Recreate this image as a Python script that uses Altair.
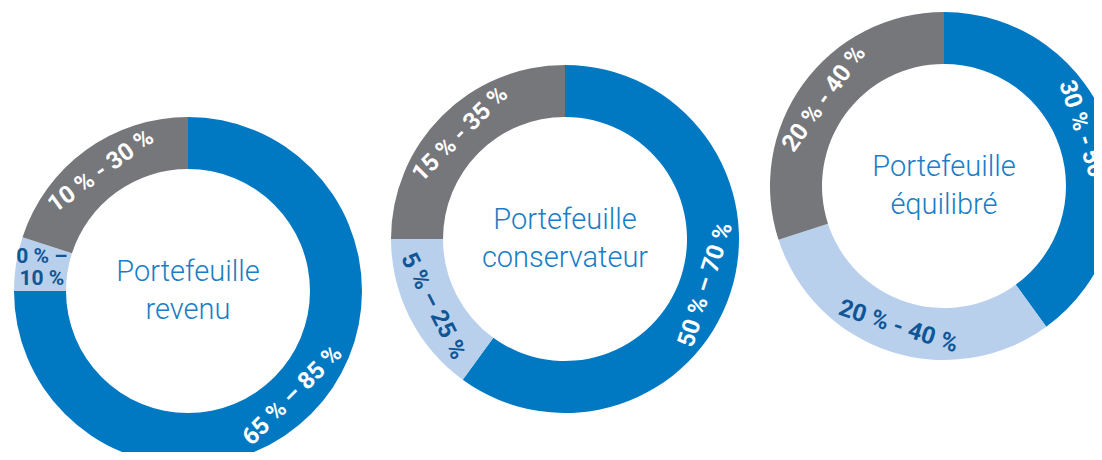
import altair as alt
import pandas as pd

# ---- data ----
portfolios = ["revenu", "conservateur", "équilibré"]
titles = ["Portefeuille\nrevenu", "Portefeuille\nconservateur", "Portefeuille\néquilibré"]
categories = ["Revenu fixe", "Liquidités", "Actions"]

shares_revenu = [75, 5, 20]
shares_conservateur = [60, 15, 25]
shares_equilibre = [40, 30, 30]

labels_revenu = ["65 % – 85 %", "0 % –\n10 %", "10 % - 30 %"]
labels_conservateur = ["50 % – 70 %", "5 % – 25 %", "15 % - 35 %"]
labels_equilibre = ["30 % - 50 %", "20 % - 40 %", "20 % - 40 %"]

all_shares = [shares_revenu, shares_conservateur, shares_equilibre]
all_labels = [labels_revenu, labels_conservateur, labels_equilibre]

# ---- styling / layout ----
ring_colors = ["#0079C2", "#B9D0EC", "#76777A"]
centers = [(180, 283), (557, 231), (936, 178)]   # plot-area pixels
R_OUT, R_IN, R_LAB = 174, 122, 148
FONT = "Roboto"

color_scale = alt.Scale(domain=categories, range=ring_colors)
theta_scale = alt.Scale(domain=[0, 100])
FLAT = "datum.idx == 1 && datum.portfolio == 'revenu'"   # label written horizontally

layers = []
for i, p in enumerate(portfolios):
    df = pd.DataFrame({
        "portfolio": p,
        "category": categories,
        "idx": list(range(len(categories))),
        "share": all_shares[i],
        "label": all_labels[i],
    })
    cx, cy = centers[i]
    arcs = alt.Chart(df).mark_arc(radius=R_OUT, radius2=R_IN, strokeWidth=0).encode(
        theta=alt.Theta("share:Q", stack=True, scale=theta_scale),
        order=alt.Order("idx:Q", sort="ascending"),
        color=alt.Color("category:N", scale=color_scale, legend=None),
        x=alt.value(cx),
        y=alt.value(cy),
    )
    lab = alt.Chart(df).transform_window(
        cum="sum(share)", sort=[alt.SortField("idx")], frame=[None, 0]
    ).transform_calculate(
        mid="datum.cum - datum.share / 2",
        tcolor="datum.idx == 1 ? '#0F5696' : '#FFFFFF'",
        flat=FLAT,
    ).transform_calculate(
        deg="datum.mid * 3.6",
    ).transform_calculate(
        rot="(datum.deg > 90 && datum.deg < 270) ? (datum.deg + 180) % 360 : datum.deg",
    ).encode(
        theta=alt.Theta("mid:Q", stack=None, scale=theta_scale),
        text=alt.Text("label:N"),
        color=alt.Color("tcolor:N", scale=None),
        x=alt.value(cx),
        y=alt.value(cy),
    )
    texts = lab.transform_filter("!datum.flat").mark_text(
        radius=R_LAB, font=FONT, fontSize=24, fontWeight="bold",
        align="center", baseline="middle",
    ).encode(angle=alt.Angle("rot:Q", scale=None))
    flat_texts = lab.transform_filter("datum.flat").mark_text(
        radius=R_LAB, font=FONT, fontSize=21, fontWeight="bold",
        align="center", baseline="middle", lineBreak="\n", lineHeight=22, dy=-11,
    )
    title = alt.Chart(pd.DataFrame({"t": [titles[i]]})).mark_text(
        font=FONT, fontSize=29, fontWeight=300, color="#1A7DC6",
        align="center", baseline="middle", lineBreak="\n", lineHeight=38, dy=-19,
    ).encode(text="t:N", x=alt.value(cx), y=alt.value(cy))
    layers += [arcs, texts, flat_texts, title]

chart = alt.layer(*layers).properties(
    width=1086, height=444,
    autosize=alt.AutoSizeParams(type="none"),
    padding=0,
).configure_view(stroke=None)

chart.save("out.html", embed_options={"renderer": "svg", "actions": False})
